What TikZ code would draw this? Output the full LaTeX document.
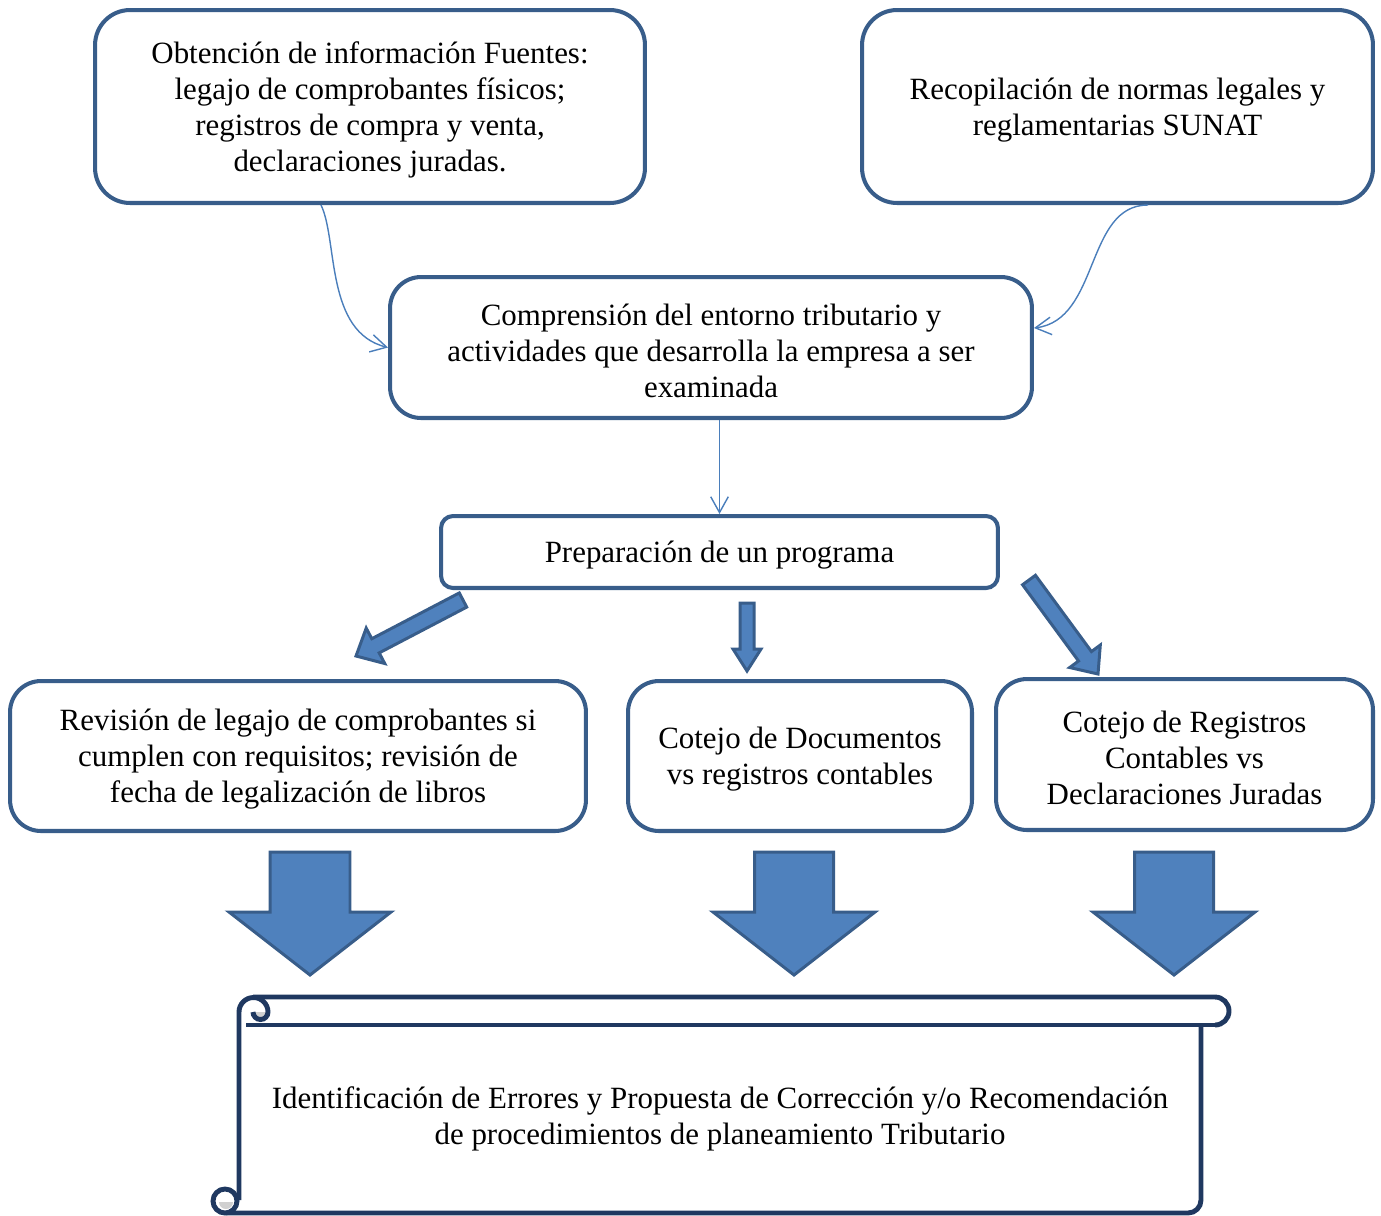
\documentclass[tikz,border=0pt]{standalone}
\usepackage{fontspec}
\setmainfont{Liberation Serif}
\usetikzlibrary{calc,arrows.meta}
\definecolor{boxline}{RGB}{56,93,138}
\definecolor{arrowfill}{RGB}{79,129,189}
\definecolor{arrowline}{RGB}{56,93,138}
\definecolor{thinline}{RGB}{74,126,187}
\definecolor{scrollline}{RGB}{31,56,96}
\definecolor{curlgray}{RGB}{208,208,208}
\newcommand\blkarrow[5]{%
  \coordinate (ta) at #1;
  \coordinate (tp) at #2;
  \coordinate (hb) at ($(tp)!#5!(ta)$);
  \filldraw[blockarrow] ($(ta)!#3!90:(tp)$) -- ($(hb)!#3!90:(tp)$) -- ($(hb)!#4!90:(tp)$) -- (tp)
    -- ($(hb)!#4!-90:(tp)$) -- ($(hb)!#3!-90:(tp)$) -- ($(ta)!#3!-90:(tp)$) -- cycle;}
\begin{document}
\begin{tikzpicture}[x=0.02cm,y=-0.02cm,
  txt/.style={align=center,font=\fontsize{17.6}{20.5}\selectfont,inner sep=0pt},
  box/.style={draw=boxline,line width=2.3pt,fill=white,rounded corners=0.62cm,inner sep=0pt},
  intext/.style={txt,yshift=-0.07cm},
  thin/.style={draw=thinline,line width=0.8pt,-{Straight Barb[length=9pt,width=10pt]}},
  blockarrow/.style={fill=arrowfill,draw=arrowline,line width=1.7pt,line join=miter},
  scroll/.style={draw=scrollline,line width=2.8pt}]
\useasboundingbox (0,0) rectangle (1381,1215);

% boxes
\node[box,minimum width=11cm,minimum height=3.86cm,rounded corners=0.7cm] (b1) at (370,106.5) {};
\node[intext] (t1) at (b1.center)
  {Obtención de información Fuentes:\\legajo de comprobantes físicos;\\registros de compra y venta,\\declaraciones juradas.};
\node[box,minimum width=10.22cm,minimum height=3.86cm,rounded corners=0.7cm] (b2) at (1117.5,106.5) {};
\node[intext] (t2) at (b2.center)
  {Recopilación de normas legales y\\reglamentarias SUNAT};
\node[box,minimum width=12.84cm,minimum height=2.82cm] (b3) at (711,347.5) {};
\node[intext] (t3) at (b3.center)
  {Comprensión del entorno tributario y\\actividades que desarrolla la empresa a ser\\examinada};
\node[box,minimum width=11.14cm,minimum height=1.44cm,rounded corners=0.24cm] (b4) at (719.5,552) {};
\node[intext] (t4) at (b4.center) {Preparación de un programa};
\node[box,minimum width=11.52cm,minimum height=3.0cm] (b5) at (298,756) {};
\node[intext] (t5) at (b5.center)
  {Revisión de legajo de comprobantes si\\cumplen con requisitos; revisión de\\fecha de legalización de libros};
\node[box,minimum width=6.88cm,minimum height=3.0cm] (b6) at (800,756) {};
\node[intext] (t6) at (b6.center)
  {Cotejo de Documentos\\vs registros contables};
\node[box,minimum width=7.54cm,minimum height=3.02cm] (b7) at (1184.5,754.5) {};
\node[intext] (t7) at (b7.center)
  {Cotejo de Registros\\Contables vs\\Declaraciones Juradas};

% thin connectors
\draw[thin] ([xshift=-0.98cm]b1.south) .. controls (338,240) and (325,332) .. (b3.west);
\draw[thin] ([xshift=0.61cm]b2.south) .. controls (1085,205) and (1100,320) .. ([yshift=0.39cm]b3.east);
\draw[thin] (b3.south -| b4.north) -- (b4.north);

% small block arrows
\blkarrow{(463,600)}{(356,656)}{0.16cm}{0.4cm}{0.44cm}
\blkarrow{(747,603)}{(747,671)}{0.14cm}{0.28cm}{0.44cm}
\blkarrow{(1029,580)}{(1098,674)}{0.16cm}{0.38cm}{0.44cm}

% big block arrows
\blkarrow{(310,852)}{(310,975)}{0.8cm}{1.62cm}{1.26cm}
\blkarrow{(794,852)}{(794,975)}{0.79cm}{1.62cm}{1.26cm}
\blkarrow{(1174,852)}{(1174,975)}{0.79cm}{1.62cm}{1.26cm}

% scroll
\fill[white] (239,1011) rectangle (1201,1213);
\draw[scroll,rounded corners=0.26cm] (1201,1025) -- (1201,1213) -- (226,1213);
\draw[scroll] (1215,1025) -- (246,1025);
\draw[scroll] (253,997) -- (1215,997) arc[start angle=-90,end angle=90,radius=14];
\fill[curlgray] (268,1012) arc[start angle=0,end angle=180,radius=8] -- cycle;
\draw[scroll] (239,1200) -- (239,1012) arc[start angle=180,end angle=360,radius=14.5]
  arc[start angle=0,end angle=180,radius=7.5];
\fill[white] (225,1201) circle[radius=12];
\fill[curlgray] (219,1202) arc[start angle=180,end angle=0,radius=7] -- cycle;
\draw[scroll] (225,1201) circle[radius=12];
\node[intext] (s) at (720,1115.5)
  {Identificación de Errores y Propuesta de Corrección y/o Recomendación\\de procedimientos de planeamiento Tributario};
\end{tikzpicture}
\end{document}
